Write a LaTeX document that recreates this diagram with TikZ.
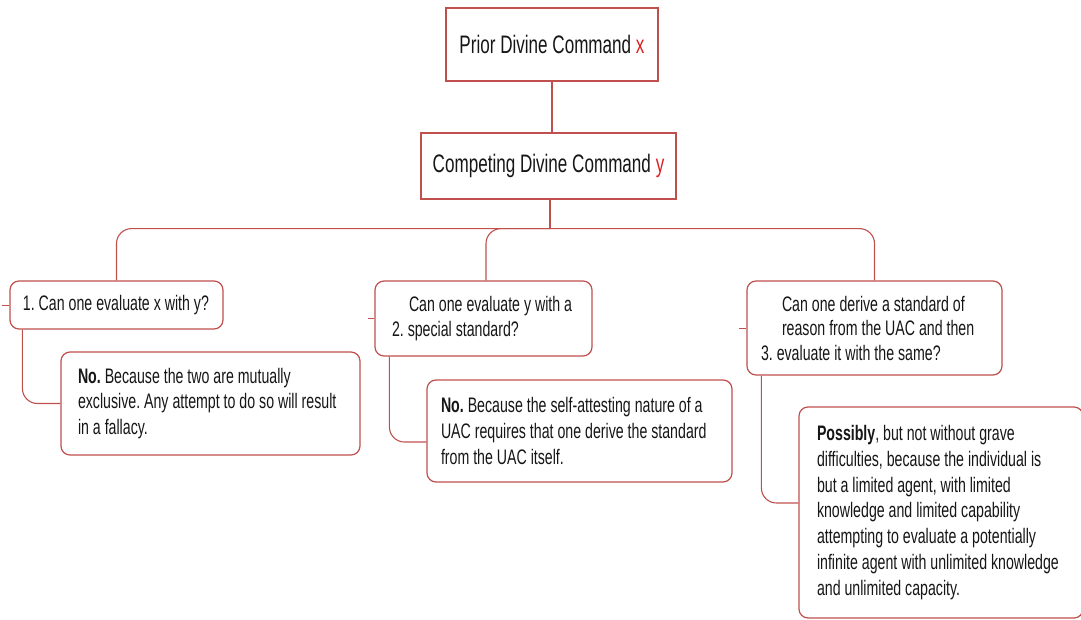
\documentclass[tikz,border=0pt]{standalone}
\usepackage{fontspec}
\setmainfont{Liberation Sans}[FakeStretch=0.675]
\frenchspacing
\definecolor{bord}{RGB}{192,80,77}
\definecolor{redl}{RGB}{222,32,32}
\definecolor{ink}{RGB}{22,22,22}
\newcommand{\oneline}[1]{\mbox{\spaceskip=0pt\xspaceskip=0pt #1}}
\begin{document}
\begin{tikzpicture}[x=1pt,y=-1pt,
  titlebox/.style={draw=bord, fill=white, line width=1.2pt, text=ink, inner sep=0pt,
    font=\fontsize{25.3}{30}\selectfont},
  qbox/.style={draw=bord, fill=white, line width=1.2pt, rounded corners=9pt, align=left,
    inner ysep=0pt, text=ink, font=\fontsize{21}{25.7}\selectfont},
  link/.style={draw=bord, line width=1.1pt, rounded corners=15pt},
  stub/.style={draw=bord, line width=0.8pt}
]
\useasboundingbox (0,0) rectangle (1081,620);

% title boxes
\node[titlebox, minimum width=212pt, minimum height=73pt] (P) at (552,44.5)
  {Prior Divine Command {\color{redl}x}};
\node[titlebox, minimum width=255pt, minimum height=66pt] (C) at (548.5,166)
  {Competing Divine Command {\color{redl}y}};

% questions
\node[qbox, text width=187pt, inner xsep=13pt, minimum height=48pt] (Q1) at (116.5,305)
  {\oneline{1. Can one evaluate x with y?}};
\node[qbox, text width=183pt, inner xsep=17pt, minimum height=75pt] (Q2) at (483.5,318.5)
  {\oneline{\hspace*{17pt}Can one evaluate y with a}\\\oneline{2. special standard?}};
\node[qbox, text width=227pt, inner xsep=14pt, minimum height=94pt,
  font=\fontsize{21}{24.5}\selectfont] (Q3) at (874.5,328)
  {\oneline{\hspace*{21pt}Can one derive a standard of}\\\oneline{\hspace*{21pt}reason from the UAC and then}\\\oneline{3. evaluate it with the same?}};

% answers
\node[qbox, text width=265pt, inner xsep=17pt, minimum height=103pt] (A1) at (210.5,403.5)
  {\oneline{\textbf{No.} Because the two are mutually}\\\oneline{exclusive. Any attempt to do so will result}\\\oneline{in a fallacy.}};
\node[qbox, text width=277pt, inner xsep=14pt, minimum height=102pt] (A2) at (579.5,431)
  {\oneline{\textbf{No.} Because the self-attesting nature of a}\\\oneline{UAC requires that one derive the standard}\\\oneline{from the UAC itself.}};
\node[qbox, text width=248pt, inner xsep=18pt, minimum height=211pt] (A3) at (941,512.5)
  {\oneline{\textbf{Possibly}, but not without grave}\\\oneline{difficulties, because the individual is}\\\oneline{but a limited agent, with limited}\\\oneline{knowledge and limited capability}\\\oneline{attempting to evaluate a potentially}\\\oneline{infinite agent with unlimited knowledge}\\\oneline{and unlimited capacity.}};

% connectors
\draw[link] (P.south) -- (P.south |- C.north);
\path (C.south) ++(1.5,29) coordinate (J);
\draw[link] (C.south -| J) -- (J);
\draw[link] (J) -| (Q1.north);
\draw[link] (J) -| ([xshift=2.5pt]Q2.north);
\draw[link] (J) -| (Q3.north);

\draw[link] ([xshift=13pt]Q1.south west) |- (A1.west);
\draw[link] ([xshift=15pt]Q2.south west) |- ([yshift=-11pt]A2.west);
\draw[link] ([xshift=15pt]Q3.south west) |- ([yshift=9.5pt]A3.west);

% small stubs at the left of the questions
\draw[stub] (Q1.west) -- ++(-7,0);
\draw[stub] (Q2.west) -- ++(-6,0);
\draw[stub] (Q3.west) -- ++(-7,0);
\end{tikzpicture}
\end{document}
